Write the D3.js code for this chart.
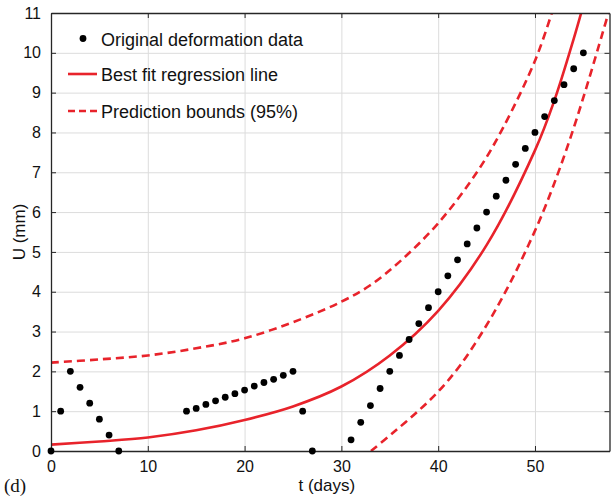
<!DOCTYPE html>
<html>
<head>
<meta charset="utf-8">
<script src="https://cdn.jsdelivr.net/npm/d3@7"></script>
<style>
  body { margin: 0; background: #fff; }
  svg { display: block; font-family: 'Liberation Sans', Arial, sans-serif; }
</style>
</head>
<body>
<div id="chart"></div>
<script>
// observed deformation
var dataT = [0, 1, 2, 3, 4, 5, 6, 7,
  14, 15, 16, 17, 18, 19, 20, 21, 22, 23, 24, 25,
  26, 27,
  31, 32, 33, 34, 35, 36, 37, 38, 39, 40, 41, 42, 43, 44, 45, 46, 47, 48, 49, 50, 51, 52, 53, 54, 55];
var dataU = [0, 1, 2, 1.6, 1.2, 0.8, 0.4, 0,
  1.0, 1.07, 1.17, 1.26, 1.35, 1.44, 1.53, 1.63, 1.72, 1.8, 1.9, 2.0,
  1, 0,
  0.28, 0.72, 1.14, 1.57, 2.0, 2.4, 2.8, 3.2, 3.6, 4.0, 4.4, 4.8, 5.2, 5.6, 6.0, 6.4, 6.8, 7.2, 7.6, 8.0, 8.4, 8.8, 9.2, 9.6, 10.0];

// regression curve and 95% bounds
var fitT = [0, 5, 10, 15, 20, 25, 30, 35, 40, 45, 50, 52, 54, 55];
var fitU = [0.16, 0.24, 0.34, 0.52, 0.78, 1.12, 1.62, 2.4, 3.52, 5.17, 7.55, 8.8, 10.35, 11.2];
var upperT = [0, 5, 10, 15, 20, 25.7, 30, 32.9, 36, 40, 44, 46.6, 50.1, 52];
var upperU = [2.22, 2.3, 2.4, 2.58, 2.83, 3.3, 3.75, 4.15, 4.75, 5.72, 7.0, 8.07, 9.86, 11.2];
var lowerT = [33.06, 35.3, 37.8, 40, 42.3, 44.9, 47, 49, 51.1, 53.85, 57.3, 57.8];
var lowerU = [0, 0.45, 0.975, 1.49, 2.16, 3.12, 4.02, 5.0, 6.16, 8.0, 10.76, 11.2];

var xTicks = [0, 10, 20, 30, 40, 50];
var yTicks = [0, 1, 2, 3, 4, 5, 6, 7, 8, 9, 10, 11];
var legendLabels = ['Original deformation data', 'Best fit regression line', 'Prediction bounds (95%)'];

var width = 615,
  height = 497,
  marginLeft = 51,
  marginTop = 13,
  marginRight = 5.5,
  marginBottom = 46,
  red = '#e8232b',
  axisColor = '#262626';

var innerW = width - marginLeft - marginRight,
  innerH = height - marginTop - marginBottom;

var x = d3.scaleLinear().domain([0, 57.7]).range([marginLeft, marginLeft + innerW]);
var y = d3.scaleLinear().domain([0, 11]).range([marginTop + innerH, marginTop]);

var svg = d3.select('#chart').append('svg')
  .attr('width', width)
  .attr('height', height);

svg.append('rect').attr('width', width).attr('height', height).attr('fill', '#fff');

svg.append('clipPath').attr('id', 'plot-clip')
  .append('rect')
  .attr('x', marginLeft).attr('y', marginTop)
  .attr('width', innerW).attr('height', innerH);

// grid
svg.append('g')
  .attr('transform', 'translate(0,' + (marginTop + innerH) + ')')
  .call(d3.axisBottom(x).tickValues(xTicks.slice(1)).tickSize(-innerH).tickFormat(''))
  .call(function (g) {
    g.select('.domain').remove();
    g.selectAll('line').attr('stroke', '#dcdcdc').attr('stroke-width', 1);
  });

svg.append('g')
  .attr('transform', 'translate(' + marginLeft + ',0)')
  .call(d3.axisLeft(y).tickValues(yTicks.slice(1, -1)).tickSize(-innerW).tickFormat(''))
  .call(function (g) {
    g.select('.domain').remove();
    g.selectAll('line').attr('stroke', '#dcdcdc').attr('stroke-width', 1);
  });

// curves
var plot = svg.append('g').attr('clip-path', 'url(#plot-clip)');

function curvePath(ts, us) {
  return d3.line()
    .x(function (d, i) { return x(ts[i]); })
    .y(function (d, i) { return y(us[i]); })
    .curve(d3.curveCatmullRom.alpha(0.5))(ts);
}

plot.append('path')
  .attr('d', curvePath(upperT, upperU))
  .attr('fill', 'none').attr('stroke', red).attr('stroke-width', 2.6)
  .attr('stroke-dasharray', '8,5');

plot.append('path')
  .attr('d', curvePath(lowerT, lowerU))
  .attr('fill', 'none').attr('stroke', red).attr('stroke-width', 2.6)
  .attr('stroke-dasharray', '8,5');

plot.append('path')
  .attr('d', curvePath(fitT, fitU))
  .attr('fill', 'none').attr('stroke', red).attr('stroke-width', 2.6);

// axes box with inward ticks
function styleAxis(g) {
  g.select('.domain').attr('stroke', axisColor).attr('stroke-width', 1.3);
  g.selectAll('.tick line').attr('stroke', axisColor).attr('stroke-width', 1);
  g.selectAll('.tick text').attr('fill', '#111').attr('font-size', 16)
    .attr('font-family', "'Liberation Sans', Arial, sans-serif");
}

svg.append('g')
  .attr('transform', 'translate(0,' + (marginTop + innerH) + ')')
  .call(d3.axisBottom(x).tickValues(xTicks).tickSizeInner(-5).tickSizeOuter(0).tickPadding(10))
  .call(styleAxis);

svg.append('g')
  .attr('transform', 'translate(0,' + marginTop + ')')
  .call(d3.axisTop(x).tickValues(xTicks).tickSizeInner(-5).tickSizeOuter(0).tickFormat(''))
  .call(styleAxis);

svg.append('g')
  .attr('transform', 'translate(' + marginLeft + ',0)')
  .call(d3.axisLeft(y).tickValues(yTicks).tickSizeInner(-5).tickSizeOuter(0).tickPadding(10))
  .call(styleAxis);

svg.append('g')
  .attr('transform', 'translate(' + (marginLeft + innerW) + ',0)')
  .call(d3.axisRight(y).tickValues(yTicks).tickSizeInner(-5).tickSizeOuter(0).tickFormat(''))
  .call(styleAxis);

// data points (drawn over the box, like the reference)
svg.append('g')
  .selectAll('circle')
  .data(dataT)
  .enter()
  .append('circle')
  .attr('cx', function (d) { return x(d); })
  .attr('cy', function (d, i) { return y(dataU[i]); })
  .attr('r', 3.4)
  .attr('fill', '#000');

// labels
svg.append('text')
  .attr('x', x(28.5)).attr('y', 491)
  .attr('text-anchor', 'middle')
  .attr('font-size', 17)
  .attr('fill', '#111')
  .text('t (days)');

svg.append('text')
  .attr('transform', 'translate(25,232) rotate(-90)')
  .attr('text-anchor', 'middle')
  .attr('font-size', 17)
  .attr('fill', '#111')
  .text('U (mm)');

svg.append('text')
  .attr('x', 4).attr('y', 492)
  .attr('font-family', "'Liberation Serif', 'Times New Roman', serif")
  .attr('font-size', 19)
  .attr('fill', '#111')
  .text('(d)');

// legend
var legend = svg.append('g');
var legendY = [38.5, 74, 111];

legend.append('circle')
  .attr('cx', 83).attr('cy', legendY[0]).attr('r', 3.4).attr('fill', '#000');

legend.append('line')
  .attr('x1', 68).attr('x2', 97).attr('y1', legendY[1]).attr('y2', legendY[1])
  .attr('stroke', red).attr('stroke-width', 2.6);

legend.append('line')
  .attr('x1', 68).attr('x2', 97).attr('y1', legendY[2]).attr('y2', legendY[2])
  .attr('stroke', red).attr('stroke-width', 2.6)
  .attr('stroke-dasharray', '7,4');

legend.selectAll('text')
  .data(legendLabels)
  .enter()
  .append('text')
  .attr('x', 101)
  .attr('y', function (d, i) { return legendY[i] + 7; })
  .attr('font-size', 18)
  .attr('fill', '#111')
  .text(function (d) { return d; });
</script>
</body>
</html>
